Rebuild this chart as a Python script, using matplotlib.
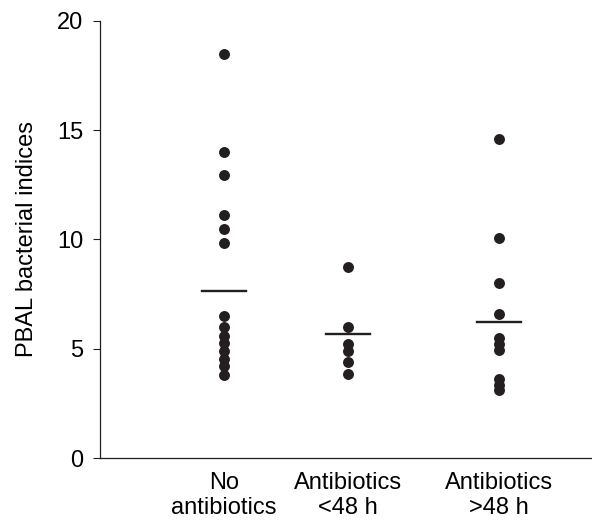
import matplotlib
matplotlib.use('Agg')
from matplotlib import pyplot as plt

# data
groups = ['No\nantibiotics', 'Antibiotics\n<48 h', 'Antibiotics\n>48 h']
no_abx = [18.5, 14.0, 12.95, 11.1, 10.5, 9.85, 6.5, 6.0, 5.6, 5.25, 4.9, 4.55, 4.2, 3.8]
abx_lt48 = [8.75, 6.0, 5.2, 4.9, 4.4, 3.85]
abx_gt48 = [14.6, 10.05, 8.0, 6.6, 5.5, 5.2, 4.95, 3.6, 3.35, 3.1]
means = [7.65, 5.66, 6.22]
xpos = [1, 2, 3.22]

plt.rcParams['font.family'] = ['Liberation Sans Narrow', 'Liberation Sans', 'DejaVu Sans']

fig = plt.figure(figsize=(5.92, 5.2), dpi=100)
ax = fig.add_axes([0.169, 0.119, 0.831, 0.841])

for x, vals, m in zip(xpos, [no_abx, abx_lt48, abx_gt48], means):
    ax.scatter([x] * len(vals), vals, s=62, color='#231f20', zorder=3, linewidths=0)
    ax.plot([x - 0.18, x + 0.18], [m, m], color='#231f20', lw=1.7)

ax.set_xlim(0, 3.97)
ax.set_ylim(0, 20)
ax.set_yticks([0, 5, 10, 15, 20])
ax.set_xticks(xpos)
ax.set_xticklabels(groups, fontsize=17, linespacing=1.2)
ax.tick_params(axis='x', length=0, pad=10)
ax.tick_params(axis='y', labelsize=17, length=5, width=0.8, pad=7, color='#231f20')
ax.set_ylabel('PBAL bacterial indices', fontsize=17, labelpad=14)

ax.spines['top'].set_visible(False)
ax.spines['right'].set_visible(False)
for s in ['left', 'bottom']:
    ax.spines[s].set_linewidth(0.9)
    ax.spines[s].set_color('#231f20')

plt.savefig('out.png', dpi=100)
